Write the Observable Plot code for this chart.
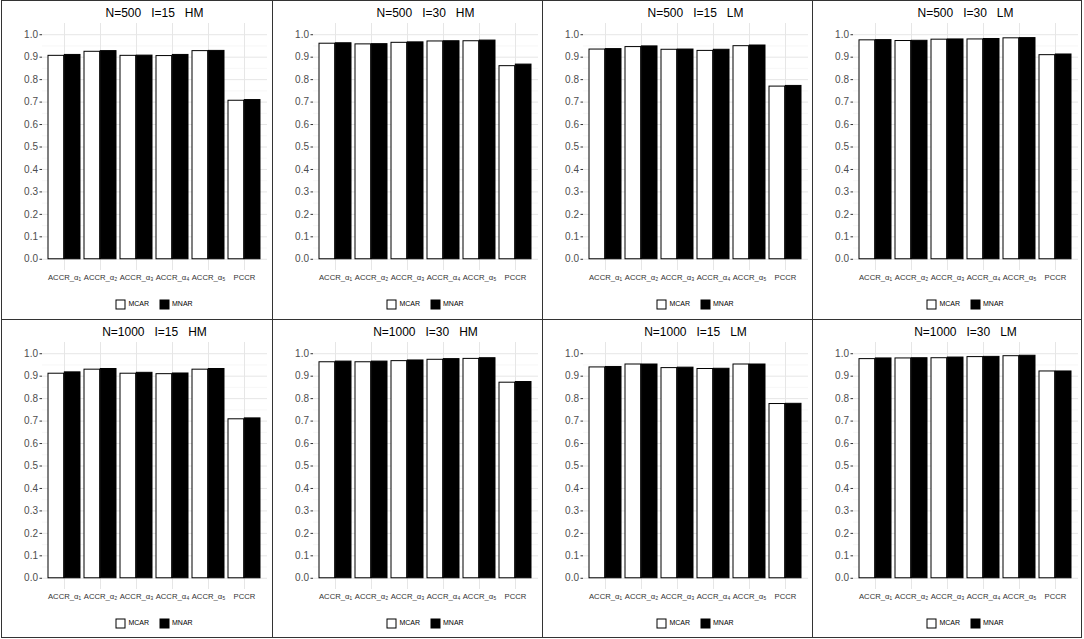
<!DOCTYPE html>
<html>
<head>
<meta charset="utf-8">
<script src="https://cdn.jsdelivr.net/npm/d3@7"></script>
<script src="https://cdn.jsdelivr.net/npm/@observablehq/plot@0.6"></script>
<style>
html, body { margin: 0; padding: 0; background: #fff; }
body { width: 1084px; height: 639px; position: relative; overflow: hidden; font-family: "Liberation Sans", Arial, sans-serif; }
.panel { position: absolute; box-sizing: border-box; border: 1px solid #333; background: #fff; overflow: hidden; }
.title { position: absolute; left: 40px; width: 225px; top: 4.5px; text-align: center; font-size: 12px; line-height: 14px; white-space: pre; color: #000; }
.chart { position: absolute; left: 0; top: 0; }
.legendbox { position: absolute; left: 40px; width: 225px; top: 297px; height: 12px; display: flex; justify-content: center; align-items: center; }
.legendbox > div { margin: 0 !important; min-height: 0 !important; font-family: "Liberation Sans", Arial, sans-serif !important; font-size: 7px !important; display: flex !important; align-items: center; }
.legendbox span { font-size: 7px !important; margin-right: 11px !important; color: #000; display: inline-flex; align-items: center; line-height: 10px; }
.legendbox span:last-child { margin-right: 0 !important; }
.legendbox svg { margin-right: 3px !important; overflow: visible !important; }
.legendbox svg rect { stroke: #000; stroke-width: 1px; }
</style>
</head>
<body>
<script>
// ---- data ----
const categories = ["ACCR_α₁", "ACCR_α₂", "ACCR_α₃", "ACCR_α₄", "ACCR_α₅", "PCCR"];
const mechanisms = ["MCAR", "MNAR"];
const panelTitles = [
  "N=500   I=15   HM", "N=500   I=30   HM", "N=500   I=15   LM", "N=500   I=30   LM",
  "N=1000   I=15   HM", "N=1000   I=30   HM", "N=1000   I=15   LM", "N=1000   I=30   LM"
];
const yTicks = [0, 0.1, 0.2, 0.3, 0.4, 0.5, 0.6, 0.7, 0.8, 0.9, 1.0];
const yMinorTicks = [0.05, 0.15, 0.25, 0.35, 0.45, 0.55, 0.65, 0.75, 0.85, 0.95];

const mcar_N500_I15_HM  = [0.906, 0.924, 0.906, 0.905, 0.927, 0.706];
const mnar_N500_I15_HM  = [0.910, 0.927, 0.907, 0.910, 0.928, 0.709];
const mcar_N500_I30_HM  = [0.960, 0.957, 0.964, 0.970, 0.971, 0.860];
const mnar_N500_I30_HM  = [0.962, 0.958, 0.966, 0.971, 0.974, 0.867];
const mcar_N500_I15_LM  = [0.934, 0.945, 0.933, 0.928, 0.949, 0.769];
const mnar_N500_I15_LM  = [0.936, 0.948, 0.934, 0.933, 0.952, 0.772];
const mcar_N500_I30_LM  = [0.975, 0.972, 0.978, 0.979, 0.984, 0.909];
const mnar_N500_I30_LM  = [0.976, 0.973, 0.979, 0.981, 0.985, 0.912];
const mcar_N1000_I15_HM = [0.911, 0.929, 0.911, 0.909, 0.929, 0.708];
const mnar_N1000_I15_HM = [0.917, 0.932, 0.915, 0.912, 0.932, 0.712];
const mcar_N1000_I30_HM = [0.962, 0.962, 0.967, 0.973, 0.977, 0.871];
const mnar_N1000_I30_HM = [0.965, 0.965, 0.970, 0.976, 0.980, 0.874];
const mcar_N1000_I15_LM = [0.939, 0.952, 0.936, 0.932, 0.952, 0.776];
const mnar_N1000_I15_LM = [0.941, 0.952, 0.938, 0.933, 0.952, 0.777];
const mcar_N1000_I30_LM = [0.976, 0.979, 0.980, 0.985, 0.989, 0.921];
const mnar_N1000_I30_LM = [0.979, 0.980, 0.983, 0.986, 0.991, 0.921];

const panelSeries = [
  [mcar_N500_I15_HM, mnar_N500_I15_HM],
  [mcar_N500_I30_HM, mnar_N500_I30_HM],
  [mcar_N500_I15_LM, mnar_N500_I15_LM],
  [mcar_N500_I30_LM, mnar_N500_I30_LM],
  [mcar_N1000_I15_HM, mnar_N1000_I15_HM],
  [mcar_N1000_I30_HM, mnar_N1000_I30_HM],
  [mcar_N1000_I15_LM, mnar_N1000_I15_LM],
  [mcar_N1000_I30_LM, mnar_N1000_I30_LM]
];

// ---- layout ----
const colLefts = [1, 272, 542, 812];
const colWidths = [272, 271, 271, 270];
const rowTops = [0, 319];
const rowHeights = [320, 319];

const W = 268, ML = 40, MR = 3;
const innerW = W - ML - MR;
const paddingInner = 0.1, paddingOuter = 0.15;
const step = innerW / (categories.length - paddingInner + 2 * paddingOuter);
const half = step * (1 - paddingInner) / 2;
const font = "Liberation Sans, Arial, sans-serif";

panelSeries.forEach(([mcar, mnar], i) => {
  const row = Math.floor(i / 4), col = i % 4;
  const panel = document.createElement("div");
  panel.className = "panel";
  panel.style.left = colLefts[col] + "px";
  panel.style.top = rowTops[row] + "px";
  panel.style.width = colWidths[col] + "px";
  panel.style.height = rowHeights[row] + "px";
  document.body.appendChild(panel);

  const rows = categories.flatMap((c, j) => [
    {cat: c, type: mechanisms[0], value: mcar[j]},
    {cat: c, type: mechanisms[1], value: mnar[j]}
  ]);

  const plot = Plot.plot({
    width: W, height: 290,
    marginLeft: ML, marginRight: MR, marginTop: 22, marginBottom: 21,
    style: {fontFamily: font, fontSize: "10px", background: "transparent", overflow: "visible"},
    x: {domain: categories, paddingInner, paddingOuter, label: null, axis: null},
    y: {domain: [-0.05, 1.05], label: null, axis: null},
    color: {domain: mechanisms, range: ["white", "black"]},
    marks: [
      Plot.gridY(yMinorTicks, {stroke: "#f2f2f2", strokeOpacity: 1, strokeWidth: 0.6}),
      Plot.gridY(yTicks, {stroke: "#e6e6e6", strokeOpacity: 1, strokeWidth: 1}),
      Plot.gridX(categories, {stroke: "#e6e6e6", strokeOpacity: 1, strokeWidth: 1}),
      Plot.axisY(yTicks, {tickFormat: d3.format(".1f"), tickSize: 2.5, tickPadding: 2, fontSize: 10, fill: "#4d4d4d", stroke: "#333", label: null}),
      Plot.axisX(categories, {tickSize: 0, tickPadding: 4.5, fontSize: 7.7, fill: "#333", label: null}),
      Plot.barY(rows.filter(d => d.type === mechanisms[0]), {x: "cat", y: "value", fill: "type", stroke: "black", strokeWidth: 1, insetRight: half}),
      Plot.barY(rows.filter(d => d.type === mechanisms[1]), {x: "cat", y: "value", fill: "type", stroke: "black", strokeWidth: 1, insetLeft: half})
    ]
  });
  plot.classList.add("chart");
  panel.appendChild(plot);

  const title = document.createElement("div");
  title.className = "title";
  title.textContent = panelTitles[i];
  panel.appendChild(title);

  const lb = document.createElement("div");
  lb.className = "legendbox";
  lb.appendChild(plot.legend("color", {className: "lg", swatchSize: 9, swatchWidth: 9, swatchHeight: 9}));
  panel.appendChild(lb);
});
</script>
</body>
</html>
